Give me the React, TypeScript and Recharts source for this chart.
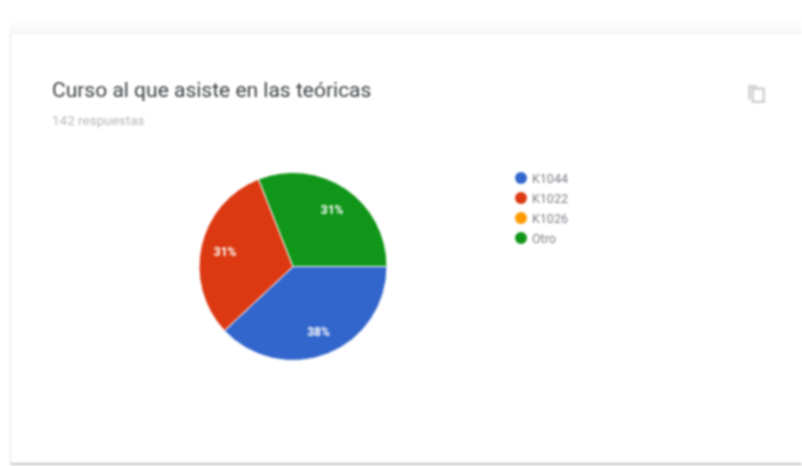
import { Cell, Legend, Pie, PieChart } from 'recharts';

const COURSES = ['K1044', 'K1022', 'K1026', 'Otro'];
const RESPONSES = [54, 44, 0, 44];
const COLORS = ['#3366cc', '#dc3912', '#ff9900', '#109618'];

const pieData = COURSES.map((name, i) => ({ name, value: RESPONSES[i] }));

const RADIAN = Math.PI / 180;

function PercentLabel({ cx, cy, midAngle, outerRadius, percent }: any) {
  if (!percent) return null;
  const r = outerRadius * 0.74;
  const x = cx + r * Math.cos(-midAngle * RADIAN);
  const y = cy + r * Math.sin(-midAngle * RADIAN);
  return (
    <text
      x={x}
      y={y + 1}
      fill="#ffffff"
      textAnchor="middle"
      dominantBaseline="central"
      fontSize={12}
      fontWeight={700}
      fontFamily="Roboto, sans-serif"
    >
      {`${Math.round(percent * 100)}%`}
    </text>
  );
}

function CourseLegend({ payload }: any) {
  return (
    <div>
      {(payload ?? []).map((item: any) => (
        <div
          key={item.value}
          style={{ display: 'flex', alignItems: 'center', height: 20 }}
        >
          <span
            style={{
              width: 12,
              height: 12,
              borderRadius: '50%',
              background: item.color,
              marginRight: 5,
            }}
          />
          <span style={{ fontSize: 12.5, color: '#7b7f85', fontFamily: 'Roboto, sans-serif' }}>
            {item.value}
          </span>
        </div>
      ))}
    </div>
  );
}

export default function App() {
  return (
    <div
      style={{
        position: 'absolute',
        left: 0,
        top: 0,
        width: 802,
        height: 466,
        background: '#ffffff',
        overflow: 'hidden',
        filter: 'blur(1px)',
      }}
    >
      {/* soft band above the card */}
      <div
        style={{
          position: 'absolute',
          left: 10,
          top: 20,
          width: 792,
          height: 14,
          background: 'linear-gradient(#ffffff, #f6f6f6)',
        }}
      />
      {/* card outline */}
      <div
        style={{
          position: 'absolute',
          left: 10,
          top: 33,
          width: 792,
          height: 432,
          borderLeft: '1px solid #e6e6e6',
          borderTop: '1px solid #f0f0f0',
          borderBottom: '2px solid #c4c4c4',
          boxSizing: 'border-box',
        }}
      />
      <div
        style={{
          position: 'absolute',
          left: 52,
          top: 78,
          fontSize: 21,
          lineHeight: '24px',
          color: '#3c4043',
          fontFamily: 'Roboto, sans-serif',
          whiteSpace: 'nowrap',
        }}
      >
        Curso al que asiste en las teóricas
      </div>
      <div
        style={{
          position: 'absolute',
          left: 52,
          top: 113,
          fontSize: 13.5,
          lineHeight: '14px',
          color: '#b4b7ba',
          fontFamily: 'Roboto, sans-serif',
          whiteSpace: 'nowrap',
        }}
      >
        142 respuestas
      </div>
      {/* copy icon */}
      <svg
        width={20}
        height={22}
        viewBox="0 0 18 20"
        style={{ position: 'absolute', left: 746, top: 82 }}
      >
        <path d="M2 3 H10 V5 H4 V16 H2 Z" fill="#cccccc" />
        <rect x={6} y={6} width={10} height={12} fill="none" stroke="#cccccc" strokeWidth={2} />
      </svg>
      <div style={{ position: 'absolute', left: 0, top: 0 }}>
        <PieChart width={802} height={466} margin={{ top: 0, right: 0, bottom: 0, left: 0 }}>
          <Pie
            data={pieData}
            dataKey="value"
            nameKey="name"
            cx={293}
            cy={266.5}
            outerRadius={94}
            startAngle={0}
            endAngle={-360}
            stroke="#ffffff"
            strokeWidth={1}
            labelLine={false}
            label={PercentLabel}
            isAnimationActive={false}
          >
            {pieData.map((entry, i) => (
              <Cell key={entry.name} fill={COLORS[i]} />
            ))}
          </Pie>
          <Legend
            layout="vertical"
            align="right"
            verticalAlign="top"
            itemSorter={null}
            wrapperStyle={{ left: 515, top: 168, width: 80 }}
            content={CourseLegend}
          />
        </PieChart>
      </div>
    </div>
  );
}
